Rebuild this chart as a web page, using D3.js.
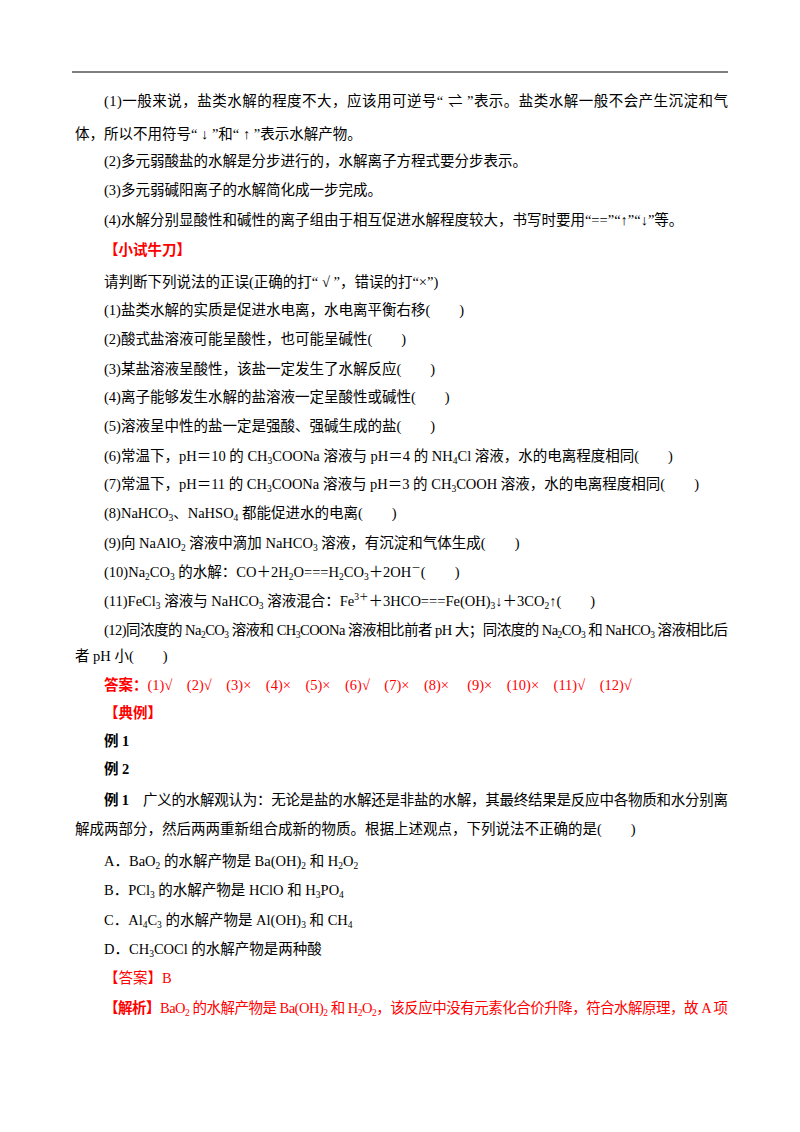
<!DOCTYPE html>
<html><head><meta charset="utf-8">
<script src="https://cdn.jsdelivr.net/npm/d3@7"></script>
<style>body{margin:0;background:#fff}</style>
</head><body>
<script>
const lineTexts = [
 "(1)一般来说，盐类水解的程度不大，应该用可逆号“ ⇌ ”表示。盐类水解一般不会产生沉淀和气",
 "体，所以不用符号“ ↓ ”和“ ↑ ”表示水解产物。",
 "(2)多元弱酸盐的水解是分步进行的，水解离子方程式要分步表示。",
 "(3)多元弱碱阳离子的水解简化成一步完成。",
 "(4)水解分别显酸性和碱性的离子组由于相互促进水解程度较大，书写时要用“==”“↑”“↓”等。",
 "【小试牛刀】",
 "请判断下列说法的正误(正确的打“ √ ”，错误的打“×”)",
 "(1)盐类水解的实质是促进水电离，水电离平衡右移(　　)",
 "(2)酸式盐溶液可能呈酸性，也可能呈碱性(　　)",
 "(3)某盐溶液呈酸性，该盐一定发生了水解反应(　　)",
 "(4)离子能够发生水解的盐溶液一定呈酸性或碱性(　　)",
 "(5)溶液呈中性的盐一定是强酸、强碱生成的盐(　　)",
 "(6)常温下，pH＝10 的 CH_{3}COONa 溶液与 pH＝4 的 NH_{4}Cl 溶液，水的电离程度相同(　　)",
 "(7)常温下，pH＝11 的 CH_{3}COONa 溶液与 pH＝3 的 CH_{3}COOH 溶液，水的电离程度相同(　　)",
 "(8)NaHCO_{3}、NaHSO_{4} 都能促进水的电离(　　)",
 "(9)向 NaAlO_{2} 溶液中滴加 NaHCO_{3} 溶液，有沉淀和气体生成(　　)",
 "(10)Na_{2}CO_{3} 的水解：CO＋2H_{2}O===H_{2}CO_{3}＋2OH^{－}(　　)",
 "(11)FeCl_{3} 溶液与 NaHCO_{3} 溶液混合：Fe^{3＋}＋3HCO===Fe(OH)_{3}↓＋3CO_{2}↑(　　)",
 "(12)同浓度的 Na_{2}CO_{3} 溶液和 CH_{3}COONa 溶液相比前者 pH 大；同浓度的 Na_{2}CO_{3} 和 NaHCO_{3} 溶液相比后",
 "者 pH 小(　　)",
 "答案：(1)√　(2)√　(3)×　(4)×　(5)×　(6)√　(7)×　(8)×　 (9)×　(10)×　(11)√　(12)√",
 "【典例】",
 "例 1",
 "例 2",
 "例 1　广义的水解观认为：无论是盐的水解还是非盐的水解，其最终结果是反应中各物质和水分别离",
 "解成两部分，然后两两重新组合成新的物质。根据上述观点，下列说法不正确的是(　　)",
 "A．BaO_{2} 的水解产物是 Ba(OH)_{2} 和 H_{2}O_{2}",
 "B．PCl_{3} 的水解产物是 HClO 和 H_{3}PO_{4}",
 "C．Al_{4}C_{3} 的水解产物是 Al(OH)_{3} 和 CH_{4}",
 "D．CH_{3}COCl 的水解产物是两种酸",
 "【答案】B",
 "【解析】BaO_{2} 的水解产物是 Ba(OH)_{2} 和 H_{2}O_{2}，该反应中没有元素化合价升降，符合水解原理，故 A 项"
];
const lineY = [106,139,166,195,225,255,287,315,344,374,402,431,461,489,518,548,577,606,635,661,690,718,746,774,805,834,866,895,925,954,983,1013];
const indent = [1,0,1,1,1,1,1,1,1,1,1,1,1,1,1,1,1,1,1,0,1,1,1,1,1,0,1,1,1,1,1,1];
const justify = [0,18,24,31];
const redLines = [5,20,21,30,31];
const boldPrefix = {5:"【小试牛刀】",20:"答案：",21:"【典例】",22:"例 1",23:"例 2",24:"例 1",31:"【解析】"};

const W=800,H=1132;
const svg=d3.select("body").append("svg").attr("width",W).attr("height",H);
svg.append("line").attr("x1",72).attr("x2",728).attr("y1",72).attr("y2",72).attr("stroke","#000").attr("stroke-width",1.2);

function parse(s){
  const out=[];const re=/(_|\^)\{([^}]*)\}/g;let last=0,m;
  while((m=re.exec(s))){ if(m.index>last) out.push({t:s.slice(last,m.index),k:0}); out.push({t:m[2],k:m[1]=="_"?1:2}); last=re.lastIndex;}
  if(last<s.length) out.push({t:s.slice(last),k:0}); return out;
}
lineTexts.forEach((s,i)=>{
  const x = indent[i]?104:75;
  const t = svg.append("text").attr("x",x).attr("y",lineY[i])
    .attr("font-family","'Liberation Serif','Times New Roman','Noto Sans CJK SC',serif")
    .attr("font-size",14.5).attr("fill",redLines.includes(i)?"#ff0000":"#000");
  let rest=s; const bp=boldPrefix[i];
  if(bp && s.startsWith(bp)){ t.append("tspan").attr("font-weight","bold").text(bp); rest=s.slice(bp.length); }
  let off=0;
  parse(rest).forEach(p=>{
    const ts=t.append("tspan").text(p.t);
    const target = p.k===1?3:(p.k===2?-6:0);
    if(target!==off) ts.attr("dy",target-off);
    off=target;
    if(p.k) ts.attr("font-size",9.5);
  });
  if(justify.includes(i)) t.attr("textLength",728-x).attr("lengthAdjust","spacing");
});
</script>
</body></html>
